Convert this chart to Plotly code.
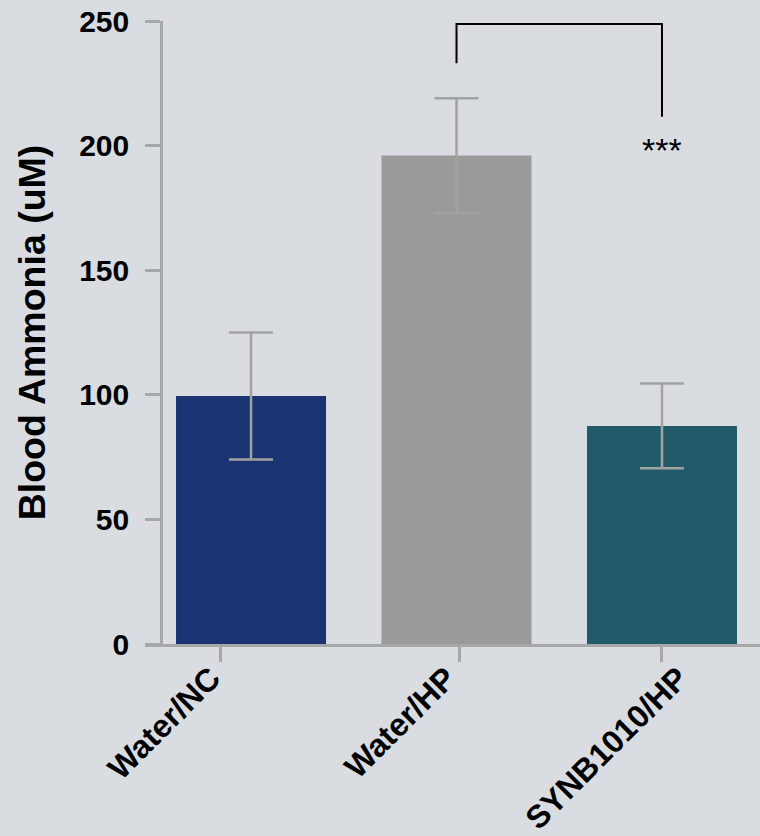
import plotly.graph_objects as go

# Blood ammonia per treatment group (mean ± error)
groups = ["Water/NC", "Water/HP", "SYNB1010/HP"]
ammonia_mean = [99.5, 196.0, 87.5]
ammonia_err = [25.5, 23.0, 17.0]
bar_colors = ["#1a3372", "#9a9a9a", "#215a68"]

# Significance bracket between Water/HP and SYNB1010/HP
bracket_groups = [1, 2]
bracket_top = 248.8
bracket_left_end = 233.0
bracket_right_end = 211.6
sig_label = "***"
sig_label_y = 198.3

# Horizontal offsets (in category units) of tick marks and of tick labels
tick_offsets = [-0.147, 0.016, -0.001]
label_offsets = [-0.195, -0.049, 0.08]

y_ticks = [0, 50, 100, 150, 200, 250]

positions = list(range(len(groups)))
x_range = [-0.516, 2.477]

fig = go.Figure()
fig.add_trace(go.Bar(
    x=positions,
    y=ammonia_mean,
    width=0.73,
    marker=dict(color=bar_colors, line=dict(width=0)),
    error_y=dict(type="data", array=ammonia_err, visible=True,
                 color="#a2a2a2", thickness=2.5, width=22),
    showlegend=False,
))

# bracket
x_left, x_right = bracket_groups
fig.add_trace(go.Scatter(
    x=[x_left, x_left, x_right, x_right],
    y=[bracket_left_end, bracket_top, bracket_top, bracket_right_end],
    mode="lines",
    line=dict(color="#000000", width=2),
    hoverinfo="skip",
    showlegend=False,
))

font_family = "Liberation Sans, Arial, sans-serif"
axis_gray = "#a8a8a8"

fig.add_annotation(
    x=x_right, y=sig_label_y, text=sig_label, showarrow=False,
    font=dict(family=font_family, size=34, color="#000000"),
    xanchor="center", yanchor="middle",
)

fig.update_layout(
    width=760, height=836,
    margin=dict(l=145, r=0, t=21, b=190),
    paper_bgcolor="#d9dce0",
    plot_bgcolor="rgba(0,0,0,0)",
    font=dict(family=font_family, color="#000000"),
    # axis carrying the line and tick marks
    xaxis=dict(
        range=x_range,
        tickmode="array",
        tickvals=[p + o for p, o in zip(positions, tick_offsets)],
        showticklabels=False,
        ticks="outside", ticklen=15, tickwidth=2.5, tickcolor=axis_gray,
        showline=True, linecolor=axis_gray, linewidth=2.5,
        showgrid=False, zeroline=False,
    ),
    # overlay axis carrying the rotated group labels
    xaxis2=dict(
        overlaying="x", anchor="y", side="bottom",
        range=x_range,
        tickmode="array",
        tickvals=[p + o for p, o in zip(positions, label_offsets)],
        ticktext=["<b>%s</b>" % g for g in groups],
        tickangle=-45,
        tickfont=dict(size=32, family=font_family, color="#000000"),
        ticks="",
        ticklabelstandoff=8,
        showline=False, showgrid=False, zeroline=False,
    ),
    yaxis=dict(
        range=[0, 250],
        anchor="free", position=0.026,
        tickmode="array",
        tickvals=y_ticks,
        ticktext=["<b>%d</b>" % t for t in y_ticks],
        tickfont=dict(size=30, family=font_family, color="#000000"),
        ticks="outside", ticklen=15, tickwidth=2.5, tickcolor=axis_gray,
        ticklabelstandoff=10,
        showline=True, linecolor=axis_gray, linewidth=2.5,
        showgrid=False, zeroline=False,
        title=dict(text="<b>Blood Ammonia (uM)</b>",
                   font=dict(size=37.5, family=font_family, color="#000000"),
                   standoff=21),
    ),
)

# invisible trace so the label axis is drawn
fig.add_trace(go.Scatter(x=[positions[0]], y=[0], xaxis="x2", mode="markers",
                         marker=dict(opacity=0), hoverinfo="skip", showlegend=False))

fig.write_html("out.html")
